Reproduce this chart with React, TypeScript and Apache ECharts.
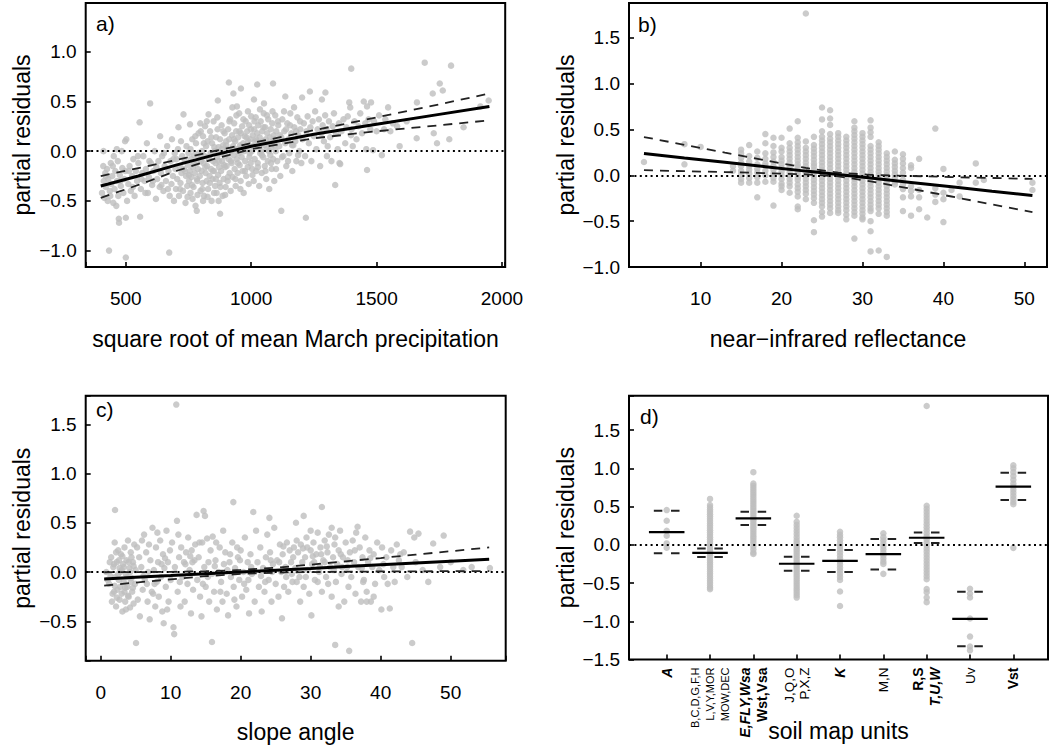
import React, { useEffect, useRef } from "react";
import * as echarts from "echarts";

const FONT = '"Liberation Sans", Arial, Helvetica, sans-serif';
const GREY = "#bebebe";

// ---------- Panel a: square root of mean March precipitation ----------
const aPoints: [number, number][] = [
  [405,-0.42],[410,-0.15],[412,-0.3],[415,-0.47],[418,-0.22],[420,-0.36],[425,-0.18],[428,-0.5],[430,-0.28],[433,-1.0],[436,-0.4],[440,-0.12],[442,-0.33],[446,-0.25],[450,-0.52],[452,-0.05],[455,-0.38],[458,-0.2],[462,-0.55],[465,-0.3],[468,-0.1],[470,-0.45],[472,-0.68],[473,-0.72],[476,-0.24],[480,-0.35],[484,0.0],[486,-0.17],[490,-0.42],[494,-0.28],[497,0.1],[500,-1.07],[500,-0.67],[502,0.12],[505,-0.5],[498,-0.2],[411,0.0],[464,0.02],
  [510,-0.33],[515,-0.15],[520,-0.4],[525,-0.25],[530,-0.08],[535,-0.45],[540,-0.2],[545,-0.3],[550,-0.12],[555,0.29],[557,-0.66],[560,-0.38],[565,-0.22],[570,-0.05],[575,-0.3],[580,-0.18],[584,0.08],[588,-0.42],[592,-0.26],[597,0.48],[600,-0.12],[605,-0.34],[610,-0.2],[615,0.0],[620,-0.48],[625,-0.28],[630,-0.1],[635,-0.36],[637,0.15],[640,-0.22],[645,-0.05],[650,-0.4],[655,-0.15],[660,-0.3],[665,0.05],[670,-0.2],[673,-1.02],[675,-0.45],[678,-0.1],[682,-0.33],[684,0.12],[688,-0.25],[692,-0.5],[695,-0.02],[698,-0.18],[700,-0.38],
  [702,-0.08],[705,-0.28],[708,0.02],[710,0.24],[712,-0.45],[715,-0.15],[718,-0.32],[720,0.1],[722,-0.22],[725,-0.05],[728,-0.4],[730,0.37],[732,-0.18],[735,-0.1],[738,-0.52],[740,-0.25],[742,0.05],[745,-0.35],[748,-0.14],[750,-0.02],[752,-0.3],[755,-0.2],[756,0.27],[758,-0.42],[760,-0.08],[762,-0.26],[765,0.12],[768,-0.16],[770,-0.36],[772,-0.04],[775,-0.22],[778,-0.55],[780,0.08],[782,-0.12],[783,-0.6],[785,-0.3],[788,-0.18],[790,0.18],[792,-0.05],[795,-0.25],[797,0.28],[798,-0.4],[800,-0.1],
  [802,-0.2],[804,0.0],[806,-0.32],[808,0.15],[810,-0.12],[812,-0.45],[814,-0.05],[816,0.25],[818,-0.22],[820,0.05],[822,-0.3],[824,-0.15],[826,0.1],[828,-0.38],[830,0.37],[832,-0.08],[834,-0.25],[836,0.2],[838,-0.02],[840,-0.18],[842,-0.5],[844,0.08],[846,-0.28],[848,-0.1],[850,0.3],[852,-0.2],[854,0.0],[856,-0.35],[858,-0.12],[860,0.14],[862,-0.42],[864,-0.06],[866,0.22],[867,0.51],[868,-0.24],[870,0.04],[872,-0.16],[874,-0.32],[876,-0.63],[876,0.12],[878,-0.02],[880,-0.2],[882,0.26],[884,-0.1],[886,-0.45],[888,0.06],[890,-0.28],[892,-0.14],[894,0.18],[896,-0.05],[898,-0.36],[900,0.1],
  [902,-0.15],[904,0.02],[906,-0.3],[908,0.22],[910,-0.08],[911,0.69],[912,0.12],[914,-0.22],[916,0.32],[918,-0.4],[920,0.0],[922,-0.12],[924,0.16],[926,-0.26],[928,0.05],[929,0.58],[930,-0.04],[932,0.28],[934,-0.18],[936,0.1],[938,-0.35],[940,0.2],[942,-0.08],[943,0.45],[944,0.02],[946,-0.22],[948,0.14],[950,-0.02],[952,0.38],[954,-0.14],[956,0.06],[958,-0.3],[959,0.63],[960,0.18],[962,-0.06],[964,0.25],[966,-0.2],[968,0.08],[970,-0.42],[972,0.0],[974,0.15],[976,-0.1],[978,0.3],[980,-0.25],[982,0.04],[984,0.2],[986,-0.16],[988,0.1],[990,-0.33],[992,0.26],[994,-0.02],[996,0.12],[998,-0.12],[1000,0.35],
  [1002,0.0],[1004,-0.18],[1006,0.16],[1008,0.05],[1010,-0.3],[1011,0.52],[1012,0.22],[1014,-0.08],[1016,0.1],[1018,0.34],[1020,-0.2],[1022,0.04],[1024,0.67],[1024,0.18],[1026,-0.12],[1028,0.26],[1030,0.08],[1032,-0.35],[1034,0.14],[1036,-0.02],[1038,0.3],[1040,0.0],[1042,-0.22],[1044,0.2],[1046,0.1],[1048,-0.06],[1050,0.38],[1051,0.48],[1052,0.06],[1054,-0.15],[1056,0.24],[1058,0.12],[1060,-0.28],[1062,0.02],[1064,0.18],[1066,-0.1],[1068,0.32],[1070,0.08],[1072,-0.38],[1074,0.14],[1076,-0.04],[1078,0.22],[1080,0.04],[1082,-0.18],[1084,0.28],[1086,0.1],[1087,0.68],[1088,-0.08],[1090,0.16],[1092,-0.3],[1094,0.06],[1096,0.36],[1098,0.0],[1100,0.2],
  [1104,-0.1],[1108,0.26],[1112,0.05],[1116,-0.25],[1120,-0.6],[1120,0.14],[1124,0.32],[1128,-0.05],[1132,0.2],[1136,0.55],[1136,0.08],[1140,-0.15],[1144,0.28],[1148,0.12],[1152,-0.02],[1156,0.38],[1160,0.18],[1164,-0.2],[1168,0.06],[1172,0.24],[1176,0.1],[1180,-0.1],[1184,0.34],[1188,0.16],[1192,0.0],[1196,0.22],[1200,-0.12],
  [1203,0.54],[1205,0.12],[1210,0.28],[1215,-0.05],[1218,-0.67],[1220,0.2],[1225,0.35],[1230,0.08],[1234,0.6],[1236,0.24],[1240,-0.1],[1245,0.3],[1250,0.15],[1255,0.4],[1260,0.02],[1265,0.22],[1270,0.32],[1275,-0.15],[1280,0.18],[1282,0.52],[1285,0.26],[1290,0.1],[1296,0.59],[1295,0.36],[1300,0.22],[1302,-0.05],[1305,0.05],[1310,0.3],[1315,0.14],[1320,-0.1],[1325,0.25],[1330,0.38],[1335,-0.34],[1338,0.18],[1345,0.02],[1350,0.28],[1352,-0.12],[1355,-0.13],[1360,0.2],[1368,0.32],[1375,0.08],[1380,0.24],[1385,0.35],[1391,0.49],[1395,0.44],[1399,0.83],[1398,0.16],[1400,0.22],
  [1405,0.05],[1412,0.3],[1420,0.12],[1428,0.25],[1435,0.38],[1442,0.18],[1449,0.5],[1455,0.28],[1459,0.02],[1462,-0.19],[1462,0.45],[1468,0.32],[1475,0.22],[1478,0.49],[1486,0.01],[1490,0.3],[1500,0.2],[1510,0.36],[1521,-0.04],[1530,0.22],[1535,0.32],[1546,0.44],[1555,0.2],[1565,0.28],[1582,0.25],[1592,0.05],[1620,0.3],[1660,0.13],[1661,0.49],[1692,0.89],[1724,0.58],[1728,0.18],[1741,0.08],[1752,0.68],[1764,0.61],[1790,0.12],[1797,0.86],[1847,0.24],[1914,0.45],[1947,0.51],
  [752,-0.24],[758,0.02],[764,-0.34],[771,-0.12],[777,0.15],[784,-0.28],[791,-0.02],[799,0.2],[805,-0.38],[811,0.08],[817,-0.16],[823,0.3],[829,-0.06],[835,-0.32],[841,0.14],[847,-0.2],[853,0.04],[859,-0.28],[865,0.34],[871,-0.1],[877,-0.36],[883,0.02],[889,0.2],[895,-0.16],[901,0.06],[907,-0.26],[913,0.3],[919,-0.1],[925,0.44],[931,0.12],[937,-0.28],[941,0.36],[947,-0.12],[953,0.2],[957,-0.38],[963,0.04],[969,0.32],[975,-0.2],[981,0.14],[987,0.4],[993,-0.06],[999,0.22],[1005,-0.24],[1013,0.3],[1019,0.12],[1027,-0.16],[1035,0.42],[1043,-0.04],[1049,0.24],[1057,-0.2],[1063,0.36],[1071,0.0],[1079,-0.12],[1085,0.4],[1093,0.12],[1099,-0.18],[1107,0.3],[1115,0.16],[1123,-0.06],[1131,0.4],[1139,0.22],[1147,-0.1],[1155,0.26],[1163,0.06],[1171,0.44],[1179,0.2],[1187,-0.04],[1195,0.3],
  [420,-0.25],[438,-0.45],[448,-0.15],[478,-0.3],[512,-0.2],[528,-0.36],[548,-0.05],[562,-0.28],[578,-0.42],[594,-0.1],[608,-0.3],[622,-0.16],[642,-0.34],[652,-0.02],[668,-0.38],[690,-0.08],[716,-0.38],[736,-0.2],[746,-0.46],[766,-0.48],[786,-0.44],[808,-0.5],[826,-0.46],[852,-0.42],[870,-0.5],[896,-0.44]
];
const aFitX = [400, 550, 700, 850, 1000, 1250, 1500, 1750, 1950];
const aFit = [-0.35, -0.25, -0.14, -0.04, 0.05, 0.17, 0.27, 0.37, 0.45];
const aUpper = [-0.25, -0.17, -0.09, 0.0, 0.08, 0.21, 0.34, 0.47, 0.58];
const aLower = [-0.47, -0.34, -0.2, -0.08, 0.02, 0.13, 0.2, 0.26, 0.31];

// ---------- Panel b: near-infrared reflectance (integer-valued) ----------
const bX = [3, 8, 10, 14, 15, 16, 17, 18, 19, 20, 21, 22, 23, 24, 25, 26, 27, 28, 29, 30, 31, 32, 33, 34, 35, 36, 37, 38, 39, 40, 41, 42, 44, 45, 51];
const bCols: number[][] = [
  [0.145],
  [0.34, 0.12],
  [0.31],
  [0.1, 0.05],
  [0.28, 0.24, 0.19, 0.14, 0.1, 0.05, 0.01, -0.04, -0.08],
  [0.33, 0.21, 0.15, 0.1, 0.06, 0.02, -0.03, -0.08],
  [0.26, 0.19, 0.12, 0.07, 0.03, -0.02, -0.08, -0.24],
  [0.45, 0.35, 0.24, 0.18, 0.13, 0.1, 0.05, 0.0, -0.07],
  [0.41, 0.32, 0.25, 0.2, 0.15, 0.1, 0.06, 0.02, -0.03, -0.07, -0.33],
  [0.41, 0.3, 0.26, 0.2, 0.16, 0.12, 0.08, 0.04, 0.0, -0.04, -0.09, -0.12, -0.16],
  [0.51, 0.35, 0.3, 0.26, 0.22, 0.18, 0.14, 0.1, 0.07, 0.03, 0.0, -0.04, -0.08, -0.12, -0.19],
  [0.59, 0.41, 0.36, 0.32, 0.28, 0.24, 0.2, 0.16, 0.12, 0.09, 0.05, 0.02, -0.02, -0.05, -0.1, -0.14, -0.18, -0.23, -0.34, -0.37],
  [1.765, 0.37, 0.3, 0.26, 0.22, 0.18, 0.14, 0.1, 0.07, 0.03, 0.0, -0.04, -0.08, -0.12, -0.16, -0.2, -0.26],
  [0.42, 0.33, 0.29, 0.25, 0.21, 0.17, 0.13, 0.1, 0.06, 0.03, -0.01, -0.05, -0.09, -0.13, -0.17, -0.21, -0.25, -0.3, -0.49, -0.62],
  [0.74, 0.61, 0.48, 0.42, 0.38, 0.34, 0.3, 0.26, 0.22, 0.18, 0.14, 0.1, 0.06, 0.02, -0.02, -0.06, -0.1, -0.14, -0.18, -0.22, -0.26, -0.3, -0.34, -0.4, -0.45],
  [0.71, 0.62, 0.55, 0.45, 0.4, 0.36, 0.32, 0.28, 0.24, 0.2, 0.16, 0.12, 0.08, 0.04, 0.0, -0.04, -0.08, -0.12, -0.16, -0.2, -0.24, -0.28, -0.32, -0.36, -0.41],
  [0.46, 0.42, 0.38, 0.34, 0.3, 0.26, 0.22, 0.18, 0.14, 0.1, 0.06, 0.02, -0.02, -0.06, -0.1, -0.14, -0.18, -0.22, -0.26, -0.3, -0.34, -0.38, -0.41],
  [0.42, 0.38, 0.34, 0.3, 0.26, 0.22, 0.18, 0.14, 0.1, 0.06, 0.02, -0.02, -0.06, -0.1, -0.14, -0.18, -0.22, -0.26, -0.3, -0.34, -0.38, -0.43, -0.48],
  [0.59, 0.52, 0.48, 0.44, 0.4, 0.36, 0.32, 0.28, 0.24, 0.2, 0.16, 0.12, 0.08, 0.04, 0.0, -0.04, -0.08, -0.12, -0.16, -0.2, -0.24, -0.28, -0.32, -0.36, -0.4, -0.44, -0.69],
  [0.46, 0.42, 0.38, 0.34, 0.3, 0.26, 0.22, 0.18, 0.14, 0.1, 0.06, 0.02, -0.02, -0.06, -0.1, -0.14, -0.18, -0.22, -0.26, -0.3, -0.34, -0.38, -0.42, -0.46, -0.48],
  [0.6, 0.52, 0.47, 0.42, 0.32, 0.28, 0.24, 0.2, 0.16, 0.12, 0.08, 0.04, 0.0, -0.04, -0.08, -0.12, -0.16, -0.2, -0.24, -0.28, -0.32, -0.36, -0.39, -0.5, -0.61, -0.83],
  [0.36, 0.32, 0.28, 0.24, 0.2, 0.16, 0.12, 0.08, 0.04, 0.0, -0.04, -0.08, -0.12, -0.16, -0.2, -0.24, -0.28, -0.32, -0.36, -0.42, -0.82],
  [0.24, 0.2, 0.16, 0.12, 0.08, 0.04, 0.0, -0.04, -0.08, -0.12, -0.16, -0.2, -0.24, -0.28, -0.32, -0.36, -0.4, -0.44, -0.89],
  [0.26, 0.17, 0.13, 0.09, 0.05, 0.01, -0.03, -0.07, -0.1],
  [0.23, 0.18, 0.13, 0.08, 0.03, -0.05, -0.1, -0.15, -0.24, -0.39],
  [0.11, 0.08, -0.12, -0.17, -0.23, -0.44],
  [0.18, -0.16, -0.24, -0.37],
  [-0.46],
  [0.51, -0.14, -0.21, -0.29],
  [0.07, -0.19, -0.26, -0.51],
  [-0.16],
  [-0.08, -0.23],
  [0.13, -0.08],
  [-0.05],
  [-0.08, -0.16]
];
const bFitX = [3, 8, 13, 18, 23, 27, 31, 36, 41, 46, 51];
const bFit = [0.237, 0.189, 0.142, 0.094, 0.046, 0.009, -0.03, -0.077, -0.125, -0.173, -0.22];
const bUpper = [0.418, 0.333, 0.248, 0.164, 0.081, 0.029, 0.005, -0.007, -0.019, -0.029, -0.039];
const bLower = [0.056, 0.045, 0.036, 0.024, 0.011, -0.011, -0.065, -0.147, -0.231, -0.317, -0.401];

// ---------- Panel c: slope angle ----------
const cPoints: [number, number][] = [
  [0.8,0.0],[1.2,-0.12],[1.5,0.15],[1.6,-0.3],[1.8,0.05],[1.9,-0.2],[2.0,0.3],[2.05,0.63],[2.1,-0.05],[2.2,-0.35],[2.3,0.1],[2.4,-0.18],[2.5,0.22],[2.6,-0.08],[2.7,-0.28],[2.8,0.0],[2.9,0.18],[3.0,-0.22],[3.1,-0.4],[3.2,0.08],[3.3,-0.1],[3.4,0.25],[3.5,-0.3],[3.6,-0.02],[3.7,0.12],[3.8,-0.15],[3.9,0.32],[4.0,-0.25],[4.1,0.04],[4.2,-0.36],[4.3,0.2],[4.4,-0.06],[4.5,-0.2],[4.6,0.1],[4.7,-0.32],[4.8,0.28],[4.9,-0.12],[5.05,-0.72],[5.0,0.02],[1.3,0.1],[1.7,-0.22],[2.2,0.2],[2.8,-0.15],[3.3,0.05],[3.8,-0.05],[4.4,0.15],[1.0,-0.08],[2.6,0.12],[3.6,-0.38],[4.2,0.0],
  [1.4,-0.04],[1.9,0.08],[2.3,-0.26],[2.7,0.04],[3.1,0.16],[3.5,-0.16],[3.9,-0.24],[4.3,-0.1],[4.7,0.06],[2.0,-0.14],[2.5,-0.02],[3.0,0.02],[3.4,-0.2],[4.0,0.1],[4.6,-0.16],
  [5.3,-0.28],[5.5,0.15],[5.6,-0.45],[5.8,0.05],[6.0,-0.18],[6.2,0.38],[6.3,-0.08],[6.5,0.2],[6.7,-0.3],[6.8,0.0],[7.0,-0.48],[7.1,0.12],[7.3,-0.2],[7.4,0.45],[7.6,0.02],[7.8,-0.35],[7.9,0.25],[8.0,-0.1],[8.2,0.1],[8.3,-0.25],[8.5,0.32],[8.6,-0.05],[8.8,-0.4],[8.9,0.18],[9.0,-0.52],[9.1,0.04],[9.3,-0.15],[9.4,0.42],[9.6,0.1],[9.7,-0.3],[9.9,0.22],[10.0,-0.08],[5.9,0.32],[6.6,-0.12],[7.5,-0.22],[8.1,0.4],[8.7,0.08],[9.5,-0.38],[5.2,0.25],[6.9,0.28],
  [10.2,0.3],[10.4,-0.56],[10.5,-0.63],[10.6,0.05],[10.8,1.7],[10.9,0.52],[11.0,-0.2],[11.2,0.15],[11.4,-0.35],[11.5,0.25],[11.7,-0.05],[11.9,0.1],[12.0,-0.3],[12.2,0.2],[12.4,-0.12],[12.5,0.35],[12.7,0.02],[12.9,-0.42],[13.0,0.22],[13.2,-0.18],[13.4,0.12],[13.5,0.28],[13.7,0.58],[13.8,-0.08],[14.0,0.15],[14.2,-0.25],[14.4,-0.45],[14.5,0.3],[14.7,0.62],[14.8,0.05],[14.9,0.57],[15.0,-0.15],[15.2,0.34],[15.4,0.1],[15.5,-0.3],[15.7,0.22],[15.9,-0.71],[15.9,-0.02],[16.0,0.36],[13.1,0.1],[12.1,0.08],[11.1,0.38],[14.1,0.3],[15.3,-0.05],
  [16.2,-0.2],[16.4,0.12],[16.6,-0.38],[16.8,0.0],[17.0,0.25],[17.2,-0.1],[17.4,-0.3],[17.6,0.08],[17.8,0.2],[18.0,-0.22],[18.2,-0.44],[18.4,0.1],[18.6,-0.05],[18.8,0.3],[18.95,0.71],[19.0,-0.15],[19.2,0.04],[19.4,-0.35],[19.6,0.15],[19.8,-0.08],[20.0,0.22],[20.2,-0.25],[20.4,0.0],[20.6,0.35],[20.8,-0.18],[21.0,0.1],[21.2,-0.42],[21.4,0.18],[21.6,-0.02],[21.8,0.61],[22.0,-0.3],[16.5,0.3],[17.5,0.42],[18.5,0.18],[19.5,0.25],[20.5,-0.12],[21.5,0.05],[17.1,-0.2],[19.1,-0.28],[22.2,0.42],
  [22.4,0.1],[22.6,-0.15],[22.8,0.25],[23.0,-0.4],[23.2,0.04],[23.4,-0.2],[23.6,0.15],[23.8,0.38],[24.0,-0.08],[24.1,0.55],[24.2,0.2],[24.4,-0.3],[24.6,0.08],[24.8,0.45],[25.0,-0.12],[25.2,0.12],[25.4,-0.25],[25.6,0.28],[25.8,0.0],[25.9,-0.47],[26.0,0.18],[26.2,-0.15],[26.4,0.05],[26.6,0.3],[26.8,-0.2],[27.0,0.22],[27.2,0.1],[27.4,-0.1],[27.6,0.25],[27.8,0.04],[28.0,0.32],[24.5,0.0],[25.5,0.1],[26.5,-0.05],[27.5,0.15],[23.5,-0.1],[27.9,0.5],[28.0,-0.1],
  [28.2,0.2],[28.4,-0.05],[28.6,0.28],[28.8,0.1],[29.0,0.57],[29.0,-0.15],[29.2,0.15],[29.4,0.35],[29.6,0.02],[29.8,-0.22],[30.0,0.22],[30.1,-0.44],[30.2,0.08],[30.4,0.3],[30.6,-0.08],[30.8,0.18],[31.0,0.4],[31.2,0.0],[31.4,0.25],[31.6,0.66],[31.6,-0.2],[31.8,0.12],[32.0,0.32],[32.2,-0.05],[32.4,0.2],[32.6,0.38],[32.8,0.05],[33.0,-0.25],[33.2,0.15],[33.4,0.28],[33.5,-0.74],[33.6,-0.1],[33.8,0.08],[34.0,0.22],[34.2,0.42],[34.4,-0.02],[34.6,0.15],[34.8,-0.3],[35.0,0.3],[35.2,0.05],[35.5,-0.8],[35.4,-0.15],[29.5,0.25],[30.5,0.1],[31.5,0.18],[32.5,-0.12],[33.5,0.35],[34.5,0.05],[28.5,-0.3],[30.0,0.42],[32.0,0.1],[31.0,-0.1],[29.3,-0.05],[33.0,0.45],[34.0,-0.35],
  [35.6,0.2],[35.8,-0.05],[36.0,0.32],[36.2,0.1],[36.4,-0.22],[36.7,0.46],[36.8,0.05],[37.0,0.25],[37.2,-0.3],[37.4,0.15],[37.6,-0.08],[37.8,0.35],[38.0,-0.2],[38.2,0.1],[38.4,0.22],[38.6,-0.3],[38.8,0.05],[39.0,0.18],[39.2,-0.12],[39.5,0.3],[39.8,0.02],[40.1,-0.38],[40.2,0.25],[40.5,-0.05],[40.8,0.15],[41.0,-0.12],[41.3,-0.37],[41.5,0.22],[41.8,0.05],[42.0,-0.1],[42.3,0.28],[42.6,0.12],[43.0,0.05],[43.3,0.2],[43.8,-0.05],[44.2,0.41],[44.5,-0.72],[44.8,0.35],[45.4,0.39],[45.0,0.1],[38.0,-0.3],[36.5,0.4],[37.5,-0.1],[39.0,-0.25],
  [46.0,0.02],[46.8,-0.1],[47.5,0.29],[48.5,0.05],[49.0,0.37],[50.0,0.1],[51.8,0.02],[53.0,0.05],[55.6,0.04],
  [6.1,-0.04],[7.7,-0.12],[9.2,0.14],[11.3,-0.1],[12.8,0.16],[14.6,-0.12],[16.3,0.06],[18.1,0.02],[19.9,0.12],[21.1,-0.08],[22.9,-0.04],[24.3,0.12],[26.1,0.26],[27.3,-0.02],[28.9,0.24],[30.3,0.16],[31.3,0.06],[32.3,0.26],[33.3,0.02],[34.3,0.18],[35.3,0.12],[36.3,0.22],[37.3,0.04],[38.5,0.14],[40.4,0.08],[42.8,0.18]
];
const cFitX = [0.5, 5, 10, 15, 20, 25, 30, 35, 40, 45, 50, 55.5];
const cFit = [-0.07, -0.054, -0.036, -0.017, 0.001, 0.019, 0.037, 0.056, 0.074, 0.092, 0.11, 0.13];
const cUpper = [-0.002, -0.001, 0.002, 0.008, 0.021, 0.044, 0.075, 0.109, 0.142, 0.177, 0.211, 0.25];
const cLower = [-0.138, -0.107, -0.074, -0.042, -0.019, -0.006, -0.001, 0.003, 0.006, 0.007, 0.009, 0.01];

// ---------- Panel d: soil map units ----------
const dLabels = [
  "{bi|A}",
  "{s|B,C,D,G,F,H}\n{s|L,V,Y,MOR}\n{s|MOW,DEC}",
  "{bi|E,FLY,Wsa}\n{b|Wst,Vsa}",
  "{n|J,Q,O}\n{n|P,X,Z}",
  "{bi|K}",
  "{n|M,N}",
  "{b|R,S}\n{bi|T,U,W}",
  "{n|Uv}",
  "{b|Vst}"
];
const dPoints: number[][] = [
  [0.454, 0.314, 0.183, 0.118, 0.018, -0.039],
  [0.6, 0.52, 0.49, 0.46, 0.43, 0.4, 0.37, 0.34, 0.31, 0.28, 0.25, 0.22, 0.19, 0.16, 0.13, 0.1, 0.07, 0.04, 0.01, -0.02, -0.05, -0.08, -0.11, -0.14, -0.17, -0.2, -0.23, -0.26, -0.29, -0.32, -0.35, -0.38, -0.41, -0.44, -0.47, -0.5, -0.53, -0.56, -0.58],
  [0.95, 0.8, 0.77, 0.74, 0.71, 0.68, 0.65, 0.62, 0.59, 0.56, 0.53, 0.5, 0.47, 0.44, 0.41, 0.38, 0.35, 0.32, 0.29, 0.26, 0.23, 0.2, 0.17, 0.14, 0.11, 0.08, 0.05, 0.02, -0.02, -0.06, -0.1, -0.12],
  [0.38, 0.3, 0.26, 0.22, 0.18, 0.14, 0.1, 0.06, 0.03, 0.0, -0.03, -0.06, -0.09, -0.12, -0.15, -0.18, -0.21, -0.24, -0.27, -0.3, -0.33, -0.36, -0.39, -0.42, -0.45, -0.48, -0.51, -0.54, -0.57, -0.6, -0.63, -0.66, -0.69],
  [0.17, 0.13, 0.1, 0.06, 0.02, -0.02, -0.06, -0.1, -0.14, -0.18, -0.22, -0.26, -0.3, -0.34, -0.38, -0.42, -0.46, -0.61, -0.8],
  [0.15, 0.1, 0.06, 0.02, -0.02, -0.06, -0.1, -0.14, -0.18, -0.22, -0.25, -0.38],
  [1.815, 0.51, 0.47, 0.43, 0.39, 0.35, 0.31, 0.27, 0.23, 0.19, 0.15, 0.11, 0.07, 0.03, -0.01, -0.05, -0.09, -0.13, -0.17, -0.21, -0.25, -0.29, -0.33, -0.37, -0.41, -0.45, -0.58, -0.62, -0.69, -0.75],
  [-0.576, -0.637, -0.689, -0.964, -1.2, -1.33, -1.38],
  [1.04, 1.0, 0.95, 0.9, 0.85, 0.8, 0.76, 0.72, 0.68, 0.64, 0.6, 0.56, 0.53, -0.04]
];
const dMean = [0.166, -0.105, 0.345, -0.248, -0.209, -0.122, 0.092, -0.969, 0.76];
const dUpper = [0.445, -0.047, 0.432, -0.157, -0.069, 0.075, 0.162, -0.615, 0.943];
const dLower = [-0.109, -0.161, 0.258, -0.34, -0.357, -0.322, 0.022, -1.326, 0.585];

const fmtSigned = (step: number, digits: number) => (v: number) => {
  const r = Math.round(v / step) * step;
  if (Math.abs(v - r) > 1e-6) return "";
  return (r < -1e-9 ? "\u2212" : "") + Math.abs(r).toFixed(digits);
};

const tick = { show: true, inside: true, length: 5, lineStyle: { color: "#000", width: 1.6 } };

function xAxisCfg(grid: number, min: number, max: number, step: number, split: number, name: string, digits = 0) {
  return {
    type: "value", gridIndex: grid, position: "bottom", min, max, minInterval: step, maxInterval: step, splitNumber: split,
    axisLine: { show: false, onZero: false }, splitLine: { show: false }, axisTick: tick,
    axisLabel: { color: "#000", fontSize: 19, fontFamily: FONT, margin: 22, showMinLabel: true, showMaxLabel: true, formatter: fmtSigned(step, digits) },
    name, nameLocation: "middle", nameGap: 60, nameMoveOverlap: false,
    nameTextStyle: { color: "#000", fontSize: 23, fontFamily: FONT }
  };
}
function yAxisCfg(grid: number, min: number, max: number) {
  return {
    type: "value", gridIndex: grid, position: "left", min, max, minInterval: 0.5, maxInterval: 0.5, splitNumber: 5,
    axisLine: { show: false, onZero: false }, splitLine: { show: false }, axisTick: tick,
    axisLabel: { color: "#000", fontSize: 19, fontFamily: FONT, margin: 9, showMinLabel: true, showMaxLabel: true, formatter: fmtSigned(0.5, 1) },
    name: "partial residuals", nameLocation: "middle", nameGap: 52, nameMoveOverlap: false,
    nameTextStyle: { color: "#000", fontSize: 23, fontFamily: FONT }
  };
}

const zeroLine = {
  silent: true, symbol: ["none", "none"], label: { show: false },
  lineStyle: { color: "#000", type: [2, 3.4], width: 2 },
  data: [{ yAxis: 0 }]
};

function scatter(i: number, data: number[][]) {
  return {
    type: "scatter", xAxisIndex: i, yAxisIndex: i, data, symbolSize: 6.5, silent: true,
    itemStyle: { color: GREY }, z: 2, markLine: zeroLine
  };
}
function line(i: number, xs: number[], ys: number[], dashed: boolean) {
  return {
    type: "line", xAxisIndex: i, yAxisIndex: i, data: xs.map((x, k) => [x, ys[k]]),
    symbol: "none", silent: true, z: 6,
    lineStyle: dashed ? { color: "#222", width: 1.8, type: [9, 7] } : { color: "#000", width: 3 }
  };
}

export default function App() {
  const ref = useRef<HTMLDivElement>(null);
  useEffect(() => {
    if (!ref.current) return;
    const chart = echarts.init(ref.current, null, { renderer: "svg" });

    const bData: number[][] = [];
    bX.forEach((x, k) => bCols[k].forEach((y) => bData.push([x, y])));
    const dData: number[][] = [];
    dPoints.forEach((col, k) => col.forEach((y) => dData.push([k + 1, y])));

    const dSeries: any[] = [];
    dMean.forEach((m, k) => {
      const c = k + 1;
      dSeries.push({ type: "line", xAxisIndex: 3, yAxisIndex: 3, symbol: "none", silent: true, z: 6,
        data: [[c - 0.41, m], [c + 0.41, m]], lineStyle: { color: "#000", width: 2.2 } });
      [dUpper[k], dLower[k]].forEach((v) => dSeries.push({ type: "line", xAxisIndex: 3, yAxisIndex: 3, symbol: "none", silent: true, z: 6,
        data: [[c - 0.297, v], [c + 0.297, v]], lineStyle: { color: "#222", width: 2, type: [8.5, 8.7] } }));
    });

    const dX: any = xAxisCfg(3, 0.13, 9.8, 1, 9, "soil map units");
    dX.axisLabel = {
      color: "#000", fontFamily: FONT, rotate: 90, margin: 8, showMinLabel: true, showMaxLabel: true,
      formatter: (v: number) => {
        const r = Math.round(v);
        if (Math.abs(v - r) > 1e-6 || r < 1 || r > 9) return "";
        return dLabels[r - 1];
      },
      rich: {
        bi: { fontSize: 14, fontWeight: "bold", fontStyle: "italic", fontFamily: FONT, lineHeight: 16.5, color: "#000" },
        b: { fontSize: 14, fontWeight: "bold", fontFamily: FONT, lineHeight: 16.5, color: "#000" },
        n: { fontSize: 13.5, fontFamily: FONT, lineHeight: 15, color: "#000" },
        s: { fontSize: 11, fontFamily: FONT, lineHeight: 15, color: "#000" }
      }
    };

    const letter = (t: string, left: number, top: number) => ({
      type: "text", left, top, silent: true,
      style: { text: t, fontSize: 21, fontFamily: FONT, fill: "#000" }
    });

    chart.setOption({
      animation: false,
      backgroundColor: "#fff",
      grid: [
        { left: 85.7, top: 3, width: 419.5, height: 264, show: true, borderColor: "#000", borderWidth: 2, backgroundColor: "transparent" },
        { left: 629, top: 3, width: 418.5, height: 264, show: true, borderColor: "#000", borderWidth: 2, backgroundColor: "transparent" },
        { left: 85.7, top: 395.7, width: 420, height: 265, show: true, borderColor: "#000", borderWidth: 2, backgroundColor: "transparent" },
        { left: 629, top: 395.7, width: 419, height: 263.8, show: true, borderColor: "#000", borderWidth: 2, backgroundColor: "transparent" }
      ],
      xAxis: [
        xAxisCfg(0, 340, 2013, 500, 3, "square root of mean March precipitation"),
        xAxisCfg(1, 1.15, 52.8, 10, 5, "near\u2212infrared reflectance"),
        xAxisCfg(2, -2.14, 57.86, 10, 6, "slope angle"),
        dX
      ],
      yAxis: [
        yAxisCfg(0, -1.165, 1.49),
        yAxisCfg(1, -1.0, 1.88),
        yAxisCfg(2, -0.9, 1.79),
        yAxisCfg(3, -1.5, 1.95)
      ],
      graphic: [
        letter("a)", 96, 13),
        letter("b)", 638, 14),
        letter("c)", 96, 399),
        letter("d)", 640, 406)
      ],
      series: [
        scatter(0, aPoints),
        line(0, aFitX, aFit, false), line(0, aFitX, aUpper, true), line(0, aFitX, aLower, true),
        scatter(1, bData),
        line(1, bFitX, bFit, false), line(1, bFitX, bUpper, true), line(1, bFitX, bLower, true),
        scatter(2, cPoints),
        line(2, cFitX, cFit, false), line(2, cFitX, cUpper, true), line(2, cFitX, cLower, true),
        scatter(3, dData),
        ...dSeries
      ]
    });
    return () => chart.dispose();
  }, []);
  return <div ref={ref} style={{ position: "fixed", left: 0, top: 0, width: 1050, height: 751 }} />;
}
